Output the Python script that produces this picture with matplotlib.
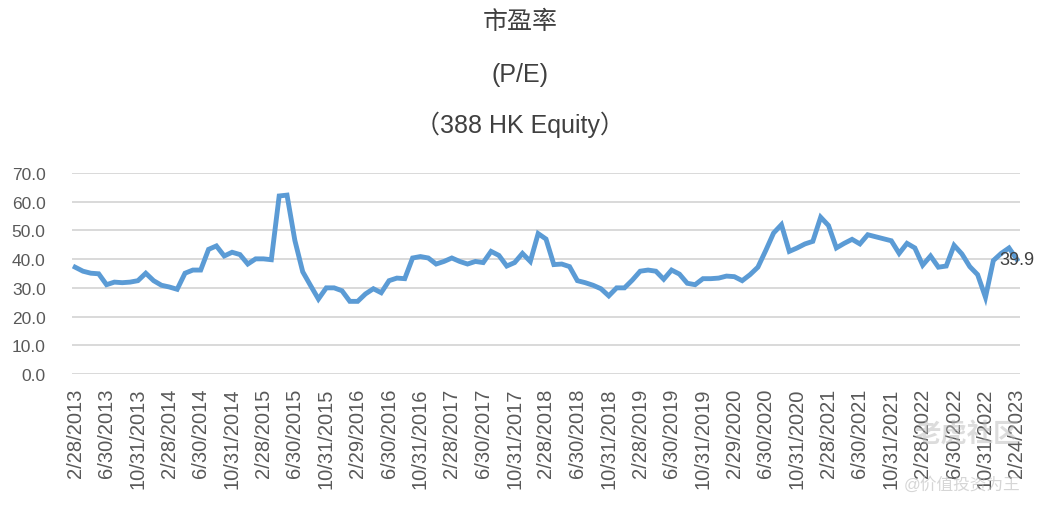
import numpy as np
import matplotlib
matplotlib.use("Agg")
import matplotlib.pyplot as plt

plt.rcParams['font.family'] = ['Liberation Sans', 'Noto Sans CJK SC', 'DejaVu Sans']

# monthly P/E of 388 HK Equity, 2/2013 .. 2/2023
pe = [37.2, 35.8, 35.1, 34.9, 31.1, 32.0, 31.8, 32.0, 32.5, 35.1,
      32.5, 30.9, 30.3, 29.5, 35.1, 36.2, 36.2, 43.4, 44.6, 41.1,
      42.4, 41.6, 38.3, 40.1, 40.1, 39.8, 62.0, 62.3, 46.5, 35.6,
      30.8, 26.1, 30.0, 30.0, 29.0, 25.3, 25.3, 27.9, 29.7, 28.3,
      32.5, 33.4, 33.2, 40.4, 40.9, 40.4, 38.3, 39.2, 40.4, 39.2,
      38.3, 39.2, 38.8, 42.7, 41.3, 37.6, 38.8, 42.0, 39.2, 48.9,
      47.0, 38.1, 38.3, 37.4, 32.5, 31.8, 30.9, 29.7, 27.2, 30.0,
      30.0, 32.7, 35.8, 36.2, 35.8, 33.0, 36.2, 34.8, 31.6, 31.1,
      33.2, 33.2, 33.4, 34.1, 33.9, 32.5, 34.6, 37.2, 43.0, 49.1,
      52.0, 42.7, 43.9, 45.3, 46.2, 54.6, 51.7, 43.9, 45.5, 46.9,
      45.3, 48.5, 47.8, 47.1, 46.4, 42.0, 45.5, 43.9, 37.9, 41.1,
      37.2, 37.6, 44.8, 41.8, 37.4, 34.6, 26.7, 39.5, 42.0, 43.9,
      39.9]

tick_labels = ["2/28/2013", "6/30/2013", "10/31/2013", "2/28/2014", "6/30/2014",
               "10/31/2014", "2/28/2015", "6/30/2015", "10/31/2015", "2/29/2016",
               "6/30/2016", "10/31/2016", "2/28/2017", "6/30/2017", "10/31/2017",
               "2/28/2018", "6/30/2018", "10/31/2018", "2/28/2019", "6/30/2019",
               "10/31/2019", "2/29/2020", "6/30/2020", "10/31/2020", "2/28/2021",
               "6/30/2021", "10/31/2021", "2/28/2022", "6/30/2022", "10/31/2022",
               "2/24/2023"]

x = np.arange(len(pe))
txt = '#404040'

fig = plt.figure(figsize=(10.4, 5.06), dpi=100)
ax = fig.add_axes([72/1040, 1-375/506, 948/1040, 201/506])

ax.plot(x, pe, color='#5B9BD5', lw=3.5, solid_joinstyle='miter', zorder=3)
ax.annotate(f"{pe[-1]:.1f}", (x[-1], pe[-1]), ha='center', va='center',
            fontsize=13, color=txt, zorder=4)

ax.set_ylim(0, 70)
ax.set_yticks(np.arange(0, 71, 10))
ax.set_yticklabels([f"{v:.1f}" for v in np.arange(0, 71, 10)])
ax.set_xlim(-0.4, len(pe) - 0.6)
ax.set_xticks(x[::4])
ax.set_xticklabels(tick_labels, rotation=90, va='top', ha='center')
ax.yaxis.grid(True, color='#D9D9D9', lw=1.4)
ax.set_axisbelow(True)
for s in ax.spines.values():
    s.set_visible(False)
ax.tick_params(axis='y', length=0, pad=19, labelsize=12.5, labelcolor='#595959')
ax.tick_params(axis='x', length=0, pad=10, labelsize=14.5, labelcolor='#595959')

fig.text(0.5, 1-22/506, "市盈率", ha='center', va='center', fontsize=18, color=txt)
fig.text(0.5, 1-75/506, "(P/E)", ha='center', va='center', fontsize=18, color=txt)
fig.text(0.5, 1-125/506, "（388 HK Equity）", ha='center', va='center', fontsize=18, color=txt)

# watermark
fig.text(1020/1040, 1-435/506, "老虎社区", ha='right', va='center', fontsize=19,
         fontweight='bold', color='#BBBBBB', alpha=0.5, zorder=10)
fig.text(1020/1040, 1-485/506, "@价值投资为王", ha='right', va='center', fontsize=12,
         color='#BBBBBB', alpha=0.6, zorder=10)

fig.savefig("out.png", dpi=100)
